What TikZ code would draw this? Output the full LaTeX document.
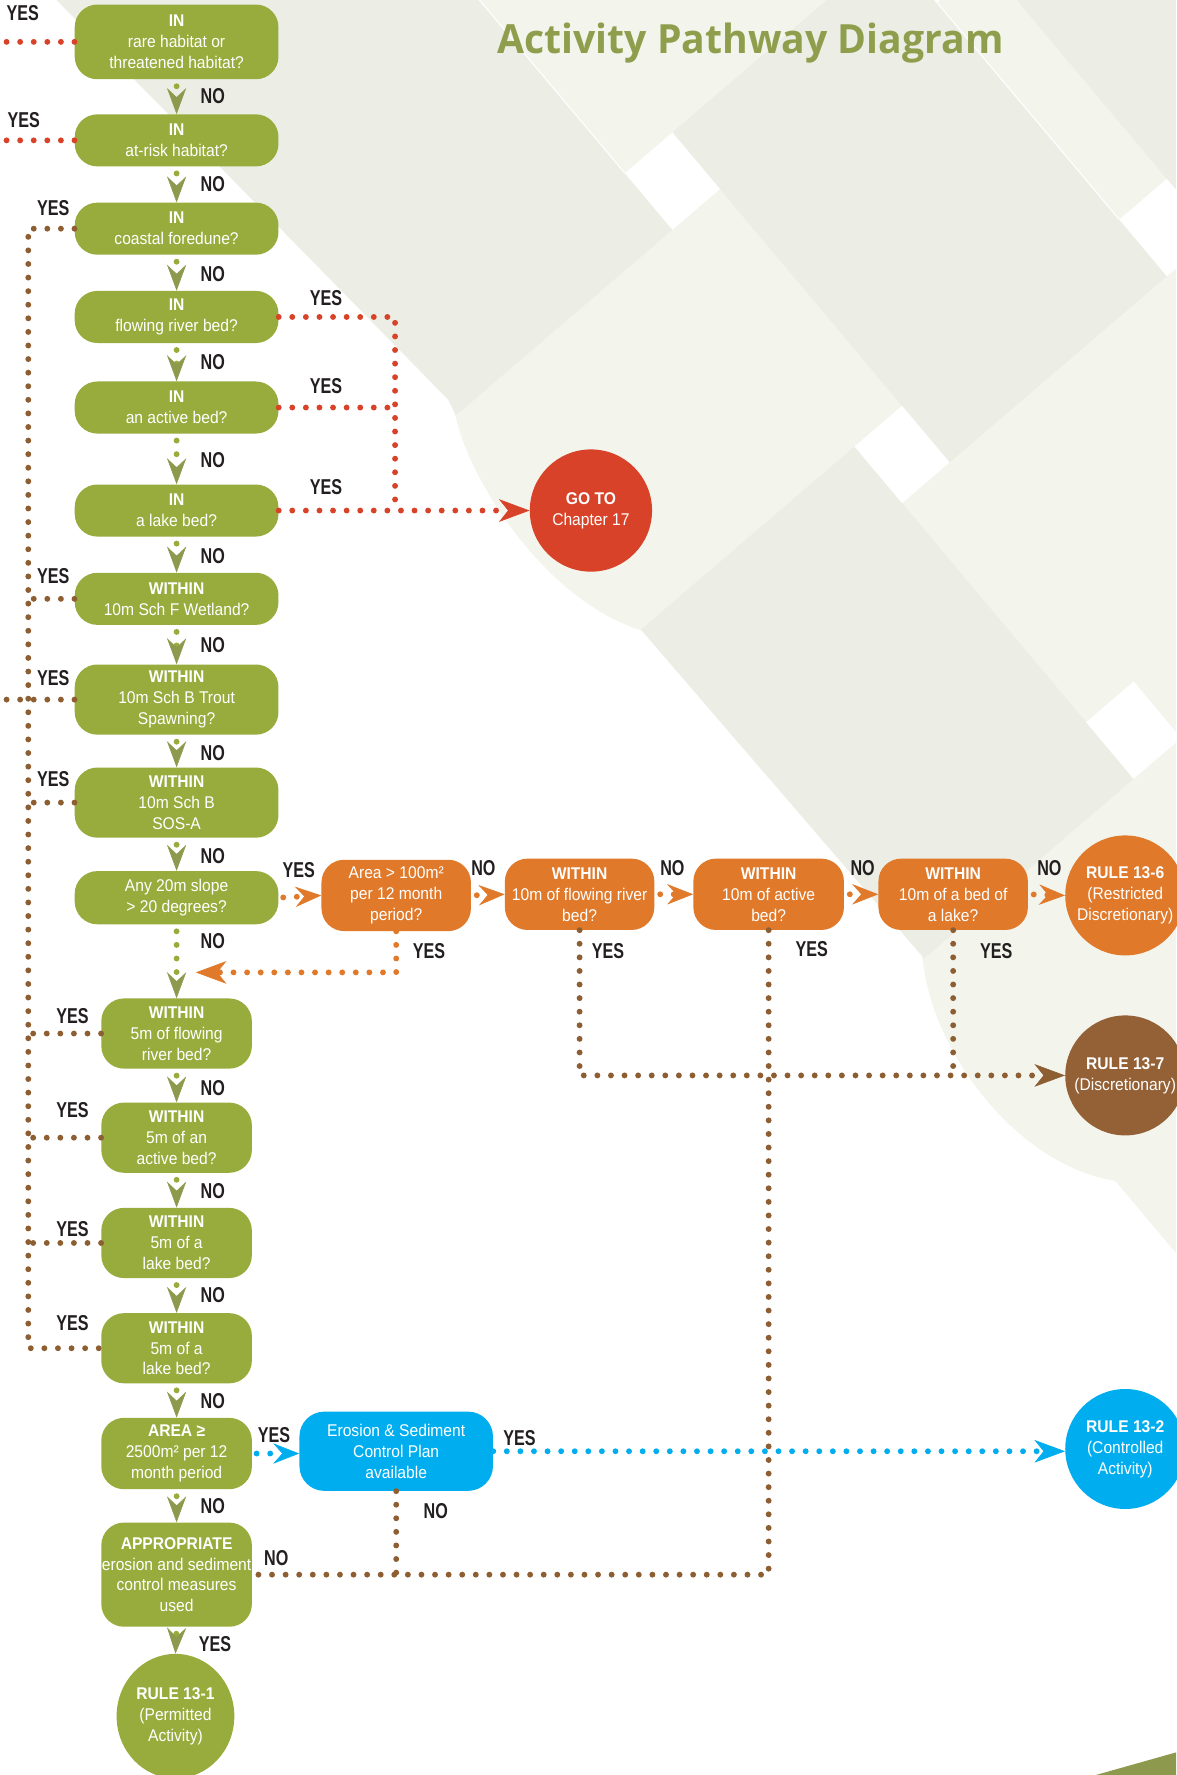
\documentclass[tikz,border=0pt]{standalone}
\usepackage{fontspec}
\usepackage{graphicx}
\usetikzlibrary{arrows.meta,shapes.geometric}

\newfontfamily\boxfont[FakeStretch=0.92]{Liberation Sans}
\newfontfamily\ynfont[FakeStretch=0.75]{Liberation Sans}
\newfontfamily\titlefont{Open Sans}

\definecolor{boxgreen}{RGB}{151,172,61}
\definecolor{tipolive}{RGB}{141,154,78}
\definecolor{titlegreen}{RGB}{143,158,76}
\definecolor{qorange}{RGB}{224,121,42}
\definecolor{gored}{RGB}{216,66,40}
\definecolor{rulebrown}{RGB}{148,97,54}
\definecolor{dotbrown}{RGB}{142,94,51}
\definecolor{planblue}{RGB}{0,174,239}
\definecolor{ynblack}{RGB}{35,31,32}
\definecolor{bglight}{RGB}{243,244,236}
\definecolor{bgdark}{RGB}{236,237,228}

\begin{document}
\begin{tikzpicture}[x=1pt,y=-1pt,
  qbox/.style={fill=boxgreen, rounded corners=20pt, minimum width=180pt, minimum height=46pt, inner sep=0pt, align=center, text=white, font=\boxfont\fontsize{15}{18.5}\selectfont},
  qbox3/.style={qbox, minimum height=62pt},
  sbox/.style={qbox, minimum width=133pt, minimum height=62pt},
  obox/.style={qbox, fill=qorange, minimum width=132pt, minimum height=63pt},
  rulecircle/.style={circle, minimum size=106pt, inner sep=0pt, align=center, text=white, font=\boxfont\fontsize{15}{18.5}\selectfont},
  yn/.style={text=ynblack, inner sep=0pt, font=\ynfont\bfseries\fontsize{19}{19}\selectfont},
  dotline/.style={line width=5.2pt, line cap=round, dash pattern=on 0pt off 12pt},
  greenflow/.style={dotline, draw=boxgreen, shorten <=6pt, -{Stealth[length=23pt,width=17pt,inset=8pt,line width=0.5pt,color=tipolive]}},
  redflow/.style={dotline, draw=gored},
  orangeflow/.style={dotline, draw=qorange},
  brownflow/.style={dotline, draw=dotbrown},
  blueflow/.style={dotline, draw=planblue},
  bigtip/.style={-{Stealth[length=27pt,width=20pt,inset=8pt,line width=0.5pt]}},
  smalltip/.style={shorten <=5pt, -{Stealth[length=23pt,width=18pt,inset=8pt,line width=0.5pt]}}
]
\useasboundingbox (0,0) rectangle (1039,1568);
\fill[white] (0,0) rectangle (1039,1568);

%%%%%% background bands
\fill[bglight] (50,0) -- (396,353) -- (402,365) .. controls (412,420) and (480,530) .. (567,557) -- (815,845) .. controls (822,930) and (900,1030) .. (985,1043) -- (1039,1107) -- (1039,0) -- cycle;
\begin{scope}
\clip (50,0) -- (396,353) -- (402,365) .. controls (412,420) and (480,530) .. (567,557) -- (815,845) .. controls (822,930) and (900,1030) .. (985,1043) -- (1039,1107) -- (1039,0) -- cycle;
\begin{scope}[shift={(552,153)}, x={(42pt,36pt)}, y={(42pt,-50pt)}]
%dark bands
\fill[bgdark] (-25,-25) -- (0,-25) -- (0,1) -- (-25,1) -- cycle;
\fill[bgdark] (-25,4.83) -- (0,4.83) -- (0,10.7) -- (-25,10.7) -- cycle;
\fill[bgdark] (1,0) -- (5.57,0) -- (5.57,5.83) -- (1,5.83) -- cycle;
\fill[bgdark] (6.57,0) -- (25,0) -- (25,5.83) -- (6.57,5.83) -- cycle;
%white gaps
\fill[white] (0,0) -- (1,0) -- (1,1) -- (0,1) -- cycle;
\fill[white] (0,4.83) -- (1,4.83) -- (1,5.83) -- (0,5.83) -- cycle;
\fill[white] (5.57,4.83) -- (6.57,4.83) -- (6.57,5.83) -- (5.57,5.83) -- cycle;
\fill[white] (0,9.7) -- (1,9.7) -- (1,10.7) -- (0,10.7) -- cycle;
\fill[white] (5.57,0) -- (6.57,0) -- (6.57,1) -- (5.57,1) -- cycle;
\draw[white, line width=1pt] (0,-3.2) -- (0,0);
\draw[white, line width=1pt] (5.57,0.9) -- (5.57,4.83);
\end{scope}
\end{scope}
\fill[tipolive] (1039,1548) -- (1039,1568) -- (968,1568) -- cycle;

%title
\node[anchor=base, text=titlegreen, inner sep=0pt] (title) at (663,47) {\resizebox{447pt}{27pt}{\titlefont\bfseries Activity Pathway Diagram}};

%%%%%% left column
\node[qbox, minimum height=66pt] (b1) at (156,37) {\textbf{IN}\\rare habitat or\\threatened habitat?};
\node[qbox] (b2) at (156,124) {\textbf{IN}\\at-risk habitat?};
\node[qbox] (b3) at (156,202) {\textbf{IN}\\coastal foredune?};
\node[qbox] (b4) at (156,280) {\textbf{IN}\\flowing river bed?};
\node[qbox] (b5) at (156,360) {\textbf{IN}\\an active bed?};
\node[qbox] (b6) at (156,451) {\textbf{IN}\\a lake bed?};
\node[qbox] (b7) at (156,529) {\textbf{WITHIN}\\10m Sch F Wetland?};
\node[qbox3] (b8) at (156,618) {\textbf{WITHIN}\\10m Sch B Trout\\Spawning?};
\node[qbox3] (b9) at (156,709) {\textbf{WITHIN}\\10m Sch B\\SOS-A};
\node[qbox, minimum height=47pt] (b10) at (156,793) {Any 20m slope\\> 20 degrees?};
\node[sbox] (b11) at (156,913) {\textbf{WITHIN}\\5m of flowing\\river bed?};
\node[sbox] (b12) at (156,1005) {\textbf{WITHIN}\\5m of an\\active bed?};
\node[sbox] (b13) at (156,1098) {\textbf{WITHIN}\\5m of a\\lake bed?};
\node[sbox] (b14) at (156,1191) {\textbf{WITHIN}\\5m of a\\lake bed?};
\node[sbox, minimum height=63pt] (b15) at (156,1284) {\textbf{AREA ≥}\\2500m² per 12\\month period};
\node[sbox, minimum height=92pt] (b16) at (156,1391) {\textbf{APPROPRIATE}\\erosion and sediment\\control measures\\used};
\node[ellipse, fill=boxgreen, minimum width=104pt, minimum height=110pt, inner sep=0pt, align=center, text=white, font=\boxfont\fontsize{15}{18.5}\selectfont] (r131) at (155,1516) {\textbf{RULE 13-1}\\(Permitted\\Activity)};

%%%%%% right side
\node[rulecircle, fill=gored, minimum size=108pt] (goto) at (522,451) {\textbf{GO TO}\\Chapter 17};
\node[obox] (oa) at (350,791) {Area > 100m²\\per 12 month\\period?};
\node[obox] (ob) at (512,790) {\textbf{WITHIN}\\10m of flowing river\\bed?};
\node[obox, minimum width=133pt] (oc) at (679,790) {\textbf{WITHIN}\\10m of active\\bed?};
\node[obox] (od) at (842,790) {\textbf{WITHIN}\\10m of a bed of\\a lake?};
\node[rulecircle, fill=qorange] (r136) at (994,791) {\textbf{RULE 13-6}\\(Restricted\\Discretionary)};
\node[rulecircle, fill=rulebrown] (r137) at (994,950) {\textbf{RULE 13-7}\\(Discretionary)};
\node[qbox, fill=planblue, minimum width=171pt, minimum height=70pt, rounded corners=22pt] (plan) at (350,1282) {Erosion \& Sediment\\Control Plan\\available};
\node[rulecircle, fill=planblue] (r132) at (994,1280) {\textbf{RULE 13-2}\\(Controlled\\Activity)};

\coordinate (leftedge) at (0,0);
\coordinate (spine) at (25,202);
\coordinate (redjoin) at (349,0);
\coordinate (merge) at (173,859);

%NO arrows down the column
\draw[greenflow] (b1.south) -- (b2.north);
\draw[greenflow] (b2.south) -- (b3.north);
\draw[greenflow] (b3.south) -- (b4.north);
\draw[greenflow] (b4.south) -- (b5.north);
\draw[greenflow] (b5.south) -- (b6.north);
\draw[greenflow] (b6.south) -- (b7.north);
\draw[greenflow] (b7.south) -- (b8.north);
\draw[greenflow] (b8.south) -- (b9.north);
\draw[greenflow] (b9.south) -- (b10.north);
\draw[greenflow] (b10.south) -- (b11.north);
\draw[greenflow] (b11.south) -- (b12.north);
\draw[greenflow] (b12.south) -- (b13.north);
\draw[greenflow] (b13.south) -- (b14.north);
\draw[greenflow] (b14.south) -- (b15.north);
\draw[greenflow] (b15.south) -- (b16.north);
\draw[greenflow] (b16.south) -- (r131.north);

%red YES lines
\draw[redflow] (b1.west) -- (b1.west -| leftedge);
\draw[redflow] (b2.west) -- (b2.west -| leftedge);
\draw[redflow] (b4.east) -| (b6.east -| redjoin);
\draw[redflow] (b5.east) -- (b5.east -| redjoin);
\draw[redflow, bigtip] (b6.east) -- (goto.west);

%brown YES spine on the left
\draw[brownflow] (b3.west) -- (spine) -- (b14.west -| spine) -- (b14.west);
\draw[brownflow] (b7.west) -- (b7.west -| spine);
\draw[brownflow] (b8.west) -- (b8.west -| leftedge);
\draw[brownflow] (b9.west) -- (b9.west -| spine);
\draw[brownflow] (b11.west) -- (b11.west -| spine);
\draw[brownflow] (b12.west) -- (b12.west -| spine);
\draw[brownflow] (b13.west) -- (b13.west -| spine);

%orange row
\draw[orangeflow, smalltip, shorten <=4pt] (b10.east) -- (oa.west);
\draw[orangeflow, smalltip] (oa.east) -- (ob.west);
\draw[orangeflow, smalltip] (ob.east) -- (oc.west);
\draw[orangeflow, smalltip] (oc.east) -- (od.west);
\draw[orangeflow, smalltip] (od.east) -- (r136.west);
\draw[orangeflow, bigtip] (oa.south) |- (merge);

%brown YES lines from the orange row
\draw[brownflow, bigtip] (ob.south) |- (r137.west);
\draw[brownflow] (od.south) -- (od.south |- r137.west);
\draw[brownflow] (oc.south) |- (b16.east);
\draw[brownflow] (plan.south) -- (plan.south |- b16.east);

%blue
\draw[blueflow, smalltip, shorten <=4pt] (b15.east) -- (b15.east -| plan.west);
\draw[blueflow, bigtip] (plan.east) -- (plan.east -| r132.west);

%YES labels
\node[yn] (y1) at (20,12) {YES};
\node[yn] (y2) at (21,106) {YES};
\node[yn] (y3) at (47,184) {YES};
\node[yn] (y4) at (288,263) {YES};
\node[yn] (y5) at (288,341) {YES};
\node[yn] (y6) at (288,430) {YES};
\node[yn] (y7) at (47,509) {YES};
\node[yn] (y8) at (47,599) {YES};
\node[yn] (y9) at (47,688) {YES};
\node[yn] (y10) at (264,769) {YES};
\node[yn] (y11) at (379,840) {YES};
\node[yn] (y12) at (537,840) {YES};
\node[yn] (y13) at (717,838) {YES};
\node[yn] (y14) at (880,840) {YES};
\node[yn] (y15) at (64,898) {YES};
\node[yn] (y16) at (64,981) {YES};
\node[yn] (y17) at (64,1086) {YES};
\node[yn] (y18) at (64,1169) {YES};
\node[yn] (y19) at (242,1268) {YES};
\node[yn] (y20) at (459,1270) {YES};
\node[yn] (y21) at (190,1452) {YES};

%NO labels
\node[yn] (n1) at (188,85) {NO};
\node[yn] (n2) at (188,163) {NO};
\node[yn] (n3) at (188,242) {NO};
\node[yn] (n4) at (188,320) {NO};
\node[yn] (n5) at (188,406) {NO};
\node[yn] (n6) at (188,491) {NO};
\node[yn] (n7) at (188,570) {NO};
\node[yn] (n8) at (188,665) {NO};
\node[yn] (n9) at (188,756) {NO};
\node[yn] (n10) at (188,831) {NO};
\node[yn] (n11) at (188,961) {NO};
\node[yn] (n12) at (188,1052) {NO};
\node[yn] (n13) at (188,1144) {NO};
\node[yn] (n14) at (188,1238) {NO};
\node[yn] (n15) at (188,1330) {NO};
\node[yn] (n16) at (427,767) {NO};
\node[yn] (n17) at (594,767) {NO};
\node[yn] (n18) at (762,767) {NO};
\node[yn] (n19) at (927,767) {NO};
\node[yn] (n20) at (385,1335) {NO};
\node[yn] (n21) at (244,1376) {NO};

\end{tikzpicture}
\end{document}
